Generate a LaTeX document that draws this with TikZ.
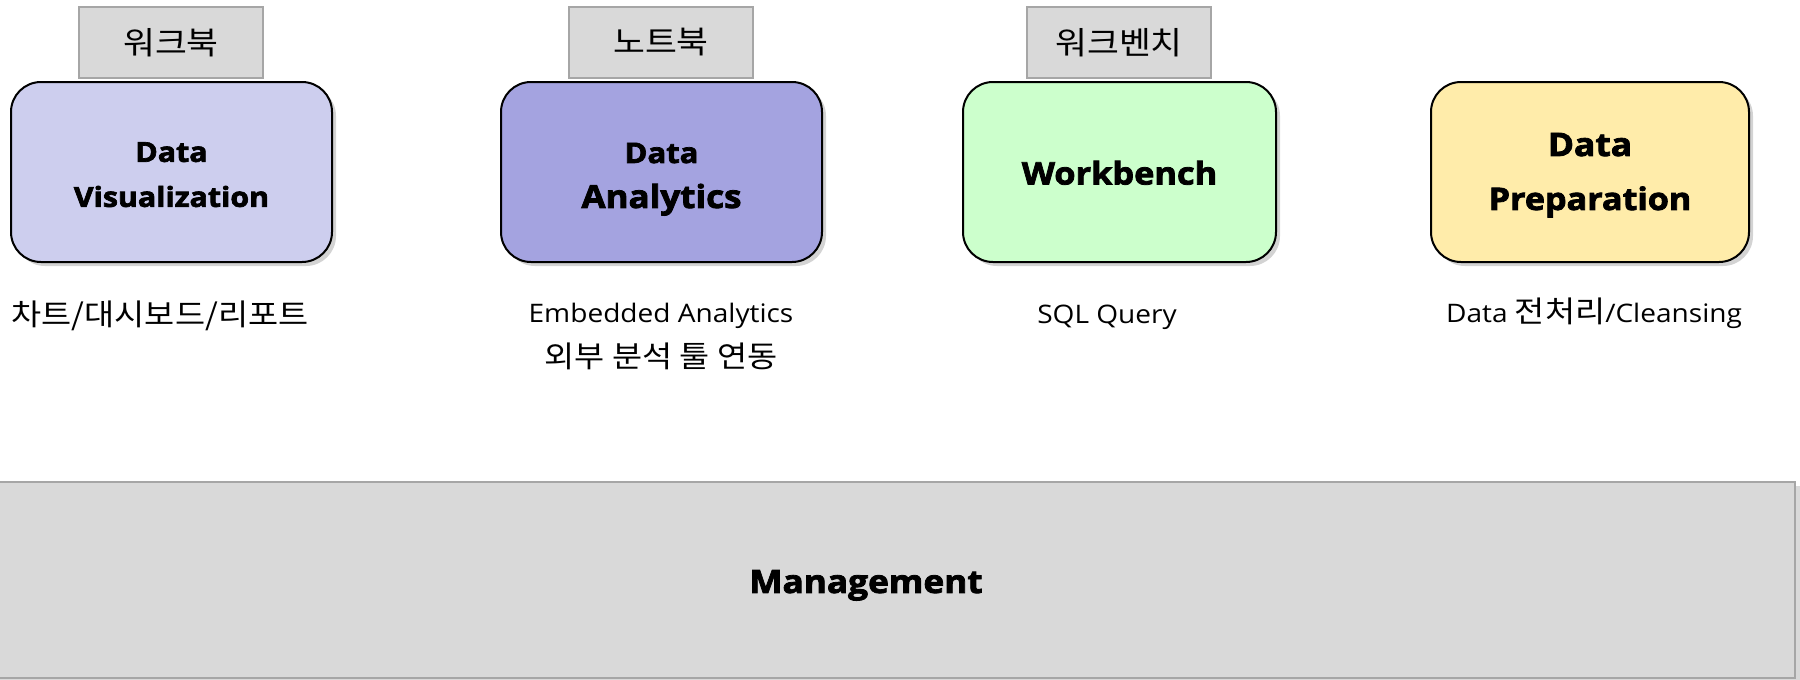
\documentclass[tikz,border=0pt]{standalone}
\usepackage{fontspec}
\setmainfont{Open Sans}[FakeStretch=1.1, BoldFeatures={FakeBold=2.5}]
\newfontfamily\kofont{Noto Sans CJK KR}[Scale=1.167, FakeStretch=1.1]
\usetikzlibrary{shadows}

\definecolor{vizfill}{RGB}{205,206,238}
\definecolor{anafill}{RGB}{164,163,224}
\definecolor{wbfill}{RGB}{204,255,204}
\definecolor{prepfill}{RGB}{255,236,170}
\definecolor{panelfill}{RGB}{217,217,217}
\definecolor{panelline}{RGB}{166,166,166}

% invisible strut that lowers a label inside its box
\newcommand{\lift}[1]{\rule{0pt}{#1}}
\newcommand{\fs}[2]{\fontsize{#1}{#2}\selectfont}

\tikzset{
  module/.style={draw=black, line width=1pt, rounded corners=15pt,
    minimum height=90pt, align=center, inner sep=0pt,
    drop shadow={shadow xshift=2pt, shadow yshift=-2pt, opacity=0.35}},
  tabbox/.style={draw=panelline, fill=panelfill, line width=0.6pt,
    minimum width=92pt, minimum height=35.5pt, inner sep=0pt,
    font=\fs{13.5}{16}\kofont},
  caption/.style={inner sep=0pt, anchor=base, font=\fs{12.75}{15}},
  basebar/.style={draw=panelline, fill=panelfill, line width=0.8pt,
    minimum width=929pt, minimum height=98pt, inner sep=0pt,
    drop shadow={shadow xshift=2.5pt, shadow yshift=-2pt, opacity=0.3},
    font=\fs{16}{19}\bfseries},
}

\begin{document}
\begin{tikzpicture}[x=0.5pt, y=-0.5pt]
  \useasboundingbox (0,0) rectangle (1800,680);

  % platform layer at the bottom
  \node[basebar] (mgmt) at (866,580) {\lift{16.8pt}Management};

  % four modules
  \node[module, fill=vizfill, minimum width=160.5pt, font=\fs{13.8}{22.5}\bfseries]
        (viz) at (171.5,172)
        {\lift{12.5pt}Data\\Visualization};
  \node[module, fill=anafill, minimum width=160.5pt, font=\fs{15.9}{22.5}\bfseries]
        (ana) at (661.5,172)
        {\fs{14.1}{22.5}\lift{17.3pt}Data\\Analytics};
  \node[module, fill=wbfill, minimum width=156.5pt, font=\fs{15.6}{19}\bfseries]
        (wb) at (1119.5,172)
        {\lift{12.7pt}Workbench};
  \node[module, fill=prepfill, minimum width=159pt, font=\fs{15.5}{27}\bfseries]
        (prep) at (1590,172)
        {\fs{16.1}{27}\lift{14.7pt}Data\\Preparation};

  % tool tabs above the modules
  \node[tabbox] (t1) at (171,42.5) {워크북};
  \node[tabbox] (t2) at (661,42.5) {노트북};
  \node[tabbox] (t3) at (1119,42.5) {워크벤치};

  % captions below the modules
  \node[caption] (c1) at (160,325) {\kofont 차트/대시보드/리포트};
  \node[caption] (c2a) at (661,322) {Embedded Analytics};
  \node[caption] (c2b) at (661,367) {\kofont 외부 분석 툴 연동};
  \node[caption] (c3) at (1107,323) {SQL Query};
  \node[caption] (c4) at (1594,322) {Data {\kofont 전처리}/Cleansing};
\end{tikzpicture}
\end{document}
